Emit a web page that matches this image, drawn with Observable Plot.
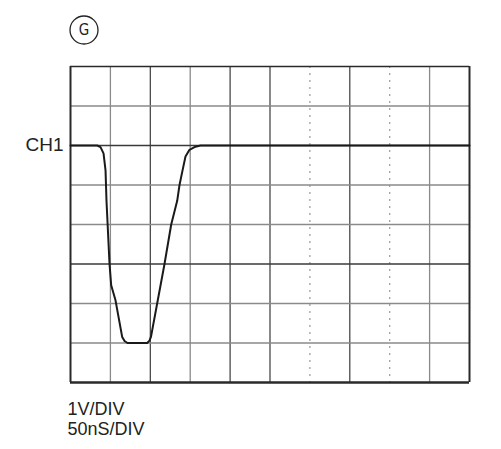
<!DOCTYPE html>
<html>
<head>
<meta charset="utf-8">
<script src="https://cdn.jsdelivr.net/npm/d3@7"></script>
<script src="https://cdn.jsdelivr.net/npm/@observablehq/plot@0.6"></script>
<style>
  html, body { margin: 0; padding: 0; background: #fff; }
  #chart svg { display: block; }
</style>
</head>
<body>
<div id="chart"></div>
<script>
// Time axis in ns (50 ns/div, 10 divisions), voltage in divisions (1 V/div, 8 divisions)
const timeDomain = [0, 500];
const voltDomain = [0, 8];
const darkTimeLines = [100, 200, 250, 350];
const grayTimeLines = [50, 150, 450];
const dottedTimeLines = [300, 400];
const darkVoltLines = [3, 6];
const grayVoltLines = [1, 2, 4, 5, 7];

// CH1 trace
const traceTime = [0, 33.5, 37.6, 41.4, 43.9, 45.1, 48.9, 51, 56.4, 64.8, 67.7, 71.4, 96.1, 99, 100.9, 117.8, 126.2, 133.7, 136.6, 140.4, 144.1, 149.1, 156.6, 163, 500];
const traceVolt = [6.0, 6.0, 5.96, 5.8, 5.37, 4.6, 3.0, 2.46, 2.08, 1.15, 1.05, 1.0, 1.0, 1.06, 1.16, 3.0, 4.0, 4.6, 5.0, 5.37, 5.72, 5.89, 5.97, 6.0, 6.0];

const channelLabel = "CH1";
const channelLevel = 6;
const voltsLabel = "1V/DIV";
const timeLabel = "50nS/DIV";
const markerLetter = "G";

const trace = traceTime.map((t, i) => ({t, v: traceVolt[i]}));
const font = "'Liberation Sans', Arial, sans-serif";

const chart = Plot.plot({
  width: 501,
  height: 449,
  marginLeft: 70,
  marginRight: 32,
  marginTop: 66,
  marginBottom: 67,
  x: {domain: timeDomain, axis: null},
  y: {domain: voltDomain, axis: null},
  style: {fontFamily: font, background: "#fff", overflow: "visible"},
  marks: [
    Plot.ruleX(grayTimeLines, {stroke: "#8a8a8a", strokeWidth: 1.3}),
    Plot.ruleX(dottedTimeLines, {stroke: "#9a9a9a", strokeWidth: 1.2, strokeDasharray: "2,5"}),
    Plot.ruleX(darkTimeLines, {stroke: "#3a3a3a", strokeWidth: 1.2}),
    Plot.ruleY(grayVoltLines, {stroke: "#8a8a8a", strokeWidth: 1.3}),
    Plot.ruleY(darkVoltLines, {stroke: "#3a3a3a", strokeWidth: 1.3}),
    Plot.ruleX([timeDomain[0]], {stroke: "#2a2a2a", strokeWidth: 2}),
    Plot.ruleX([timeDomain[1]], {stroke: "#2a2a2a", strokeWidth: 2}),
    Plot.ruleY([voltDomain[0]], {stroke: "#2a2a2a", strokeWidth: 2.5}),
    Plot.ruleY([voltDomain[1]], {stroke: "#2a2a2a", strokeWidth: 1.6}),
    Plot.line(trace, {x: "t", y: "v", stroke: "#1a1a1a", strokeWidth: 2, curve: "linear"}),
    Plot.text([channelLabel], {x: timeDomain[0], y: channelLevel, text: d => d, textAnchor: "end", lineAnchor: "bottom", dx: -7, dy: 5.5, fontSize: 19, fill: "#222"}),
    Plot.text([voltsLabel], {frameAnchor: "bottom-left", text: d => d, textAnchor: "start", lineAnchor: "bottom", dx: -3, dy: 32, fontSize: 18, fill: "#222"}),
    Plot.text([timeLabel], {frameAnchor: "bottom-left", text: d => d, textAnchor: "start", lineAnchor: "bottom", dx: -3, dy: 52.5, fontSize: 18, fill: "#222"}),
    Plot.dot([markerLetter], {frameAnchor: "top-left", dx: 13.5, dy: -36.5, r: 14, stroke: "#222", strokeWidth: 1.3, fill: "none"}),
    Plot.text([markerLetter], {frameAnchor: "top-left", text: d => d, textAnchor: "middle", lineAnchor: "middle", dx: 13.5, dy: -36.5, fontSize: 15, fill: "#222", fontFamily: "'Liberation Sans Narrow', 'DejaVu Sans Condensed', sans-serif"})
  ]
});
document.getElementById("chart").appendChild(chart);
</script>
</body>
</html>
